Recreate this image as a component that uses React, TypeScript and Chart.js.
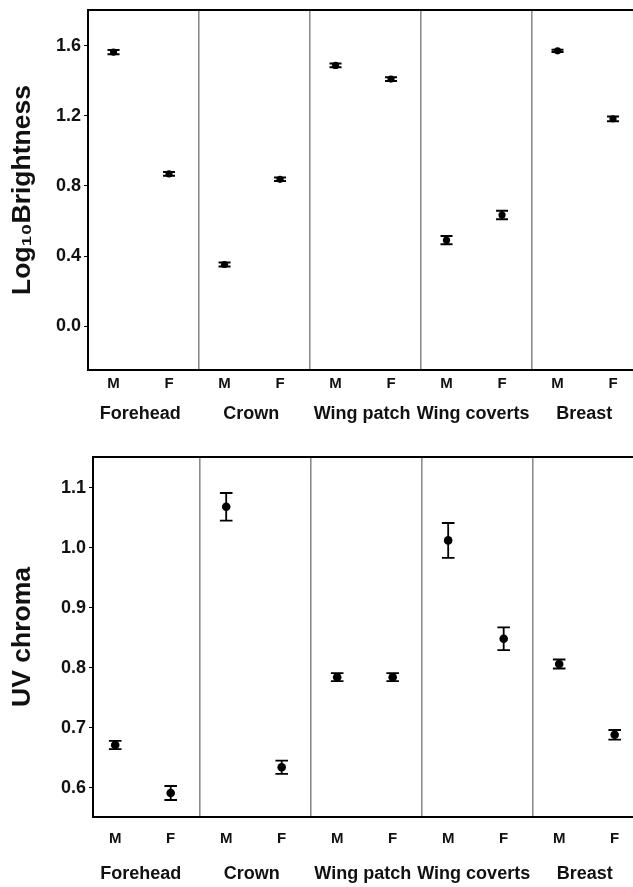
import React, { useEffect, useRef } from 'react';
import { Chart, registerables } from 'chart.js';

Chart.register(...registerables);

// ---------- data ----------
const regions = ['Forehead', 'Crown', 'Wing patch', 'Wing coverts', 'Breast'];
const sexLabels = ['M', 'F'];

const brightnessTicks = [0, 0.4, 0.8, 1.2, 1.6];
const brightnessMale = [1.564, 0.352, 1.488, 0.491, 1.571];
const brightnessFemale = [0.869, 0.838, 1.41, 0.634, 1.183];
const brightnessMaleErr = [0.012, 0.012, 0.011, 0.024, 0.006];
const brightnessFemaleErr = [0.011, 0.01, 0.011, 0.024, 0.014];

const uvTicks = [0.6, 0.7, 0.8, 0.9, 1.0, 1.1];
const uvMale = [0.671, 1.068, 0.784, 1.012, 0.806];
const uvFemale = [0.591, 0.634, 0.784, 0.848, 0.688];
const uvMaleErr = [0.007, 0.023, 0.0067, 0.029, 0.0075];
const uvFemaleErr = [0.0117, 0.011, 0.0067, 0.019, 0.008];

// ---------- styling ----------
const FONT = '"Liberation Sans", Arial, Helvetica, sans-serif';
const TEXT = '#111';

type TickDef = { value: number; kind: 'div' | 'sex' | 'grp'; label: string | string[] };

function buildXTicks(offM: number, offF: number, offG: number): TickDef[] {
  const list: TickDef[] = [];
  regions.forEach((name, i) => {
    if (i > 0) list.push({ value: i, kind: 'div', label: '' });
    list.push({ value: i + offM, kind: 'sex', label: sexLabels[0] });
    list.push({ value: i + offG, kind: 'grp', label: ['', name] });
    list.push({ value: i + offF, kind: 'sex', label: sexLabels[1] });
  });
  return list;
}

function errorBarPlugin(errs: number[][], cap: number, lw: number) {
  return {
    id: 'errorBars',
    afterDatasetsDraw(chart: any) {
      const ctx = chart.ctx;
      const yScale = chart.scales.y;
      ctx.save();
      ctx.strokeStyle = '#000';
      ctx.lineWidth = lw;
      chart.data.datasets.forEach((ds: any, di: number) => {
        const meta = chart.getDatasetMeta(di);
        meta.data.forEach((pt: any, i: number) => {
          const v = ds.data[i].y;
          const e = errs[di][i];
          const yT = yScale.getPixelForValue(v + e);
          const yB = yScale.getPixelForValue(v - e);
          const x = pt.x;
          ctx.beginPath();
          ctx.moveTo(x, yT);
          ctx.lineTo(x, yB);
          ctx.moveTo(x - cap, yT);
          ctx.lineTo(x + cap, yT);
          ctx.moveTo(x - cap, yB);
          ctx.lineTo(x + cap, yB);
          ctx.stroke();
        });
      });
      ctx.restore();
    },
  };
}

type Params = {
  male: number[];
  female: number[];
  maleErr: number[];
  femaleErr: number[];
  yTicks: number[];
  yMin: number;
  yMax: number;
  yTitle: string;
  xMin: number;
  xMax: number;
  offM: number;
  offF: number;
  offG: number;
  yAxisWidth: number;
  xAxisHeight: number;
  padTop: number;
  labelPad: number;
  grpLineHeight: number;
  radius: number;
  cap: number;
  barWidth: number;
};

function makeConfig(p: Params): any {
  const xTicks = buildXTicks(p.offM, p.offF, p.offG);
  const maleData = regions.map((_, i) => ({ x: i + p.offM, y: p.male[i] }));
  const femaleData = regions.map((_, i) => ({ x: i + p.offF, y: p.female[i] }));
  const zeroPad = (s: any) => {
    s.paddingLeft = 0;
    s.paddingRight = 0;
    s.paddingTop = 0;
    s.paddingBottom = 0;
  };
  return {
    type: 'scatter',
    data: {
      datasets: [
        {
          label: sexLabels[0],
          data: maleData,
          pointRadius: p.radius,
          pointBackgroundColor: '#000',
          pointBorderWidth: 0,
          showLine: false,
        },
        {
          label: sexLabels[1],
          data: femaleData,
          pointRadius: p.radius,
          pointBackgroundColor: '#000',
          pointBorderWidth: 0,
          showLine: false,
        },
      ],
    },
    options: {
      responsive: false,
      animation: false,
      devicePixelRatio: 1,
      layout: { autoPadding: false, padding: { top: p.padTop, left: 0, right: 0, bottom: 0 } },
      plugins: { legend: { display: false }, tooltip: { enabled: false } },
      scales: {
        x: {
          type: 'linear',
          position: 'bottom',
          min: p.xMin,
          max: p.xMax,
          afterBuildTicks: (s: any) => {
            s.ticks = xTicks.map((t) => ({ value: t.value }));
          },
          afterFit: (s: any) => {
            s.height = p.xAxisHeight;
            zeroPad(s);
          },
          ticks: {
            autoSkip: false,
            maxRotation: 0,
            minRotation: 0,
            padding: p.labelPad,
            color: TEXT,
            callback: (_v: any, i: number) => xTicks[i]?.label ?? '',
            font: (ctx: any) => {
              const t = xTicks[ctx.index];
              if (t && t.kind === 'grp') {
                return { family: FONT, size: 18, weight: 'bold', lineHeight: p.grpLineHeight };
              }
              return { family: FONT, size: 15, weight: 'bold', lineHeight: 1 };
            },
          },
          grid: {
            display: true,
            drawOnChartArea: true,
            drawTicks: false,
            lineWidth: 1.6,
            color: (ctx: any) => {
              const t = xTicks[ctx.index];
              return t && t.kind === 'div' ? '#8c8c8c' : 'rgba(0,0,0,0)';
            },
          },
          border: { display: true, color: '#000', width: 2 },
        },
        xTop: {
          type: 'linear',
          position: 'top',
          min: p.xMin,
          max: p.xMax,
          afterFit: (s: any) => {
            s.height = 0;
            zeroPad(s);
          },
          ticks: { display: false },
          grid: { display: false, drawTicks: false },
          border: { display: true, color: '#000', width: 2 },
        },
        y: {
          type: 'linear',
          position: 'left',
          min: p.yMin,
          max: p.yMax,
          afterBuildTicks: (s: any) => {
            s.ticks = p.yTicks.map((v) => ({ value: v }));
          },
          afterFit: (s: any) => {
            s.width = p.yAxisWidth;
            zeroPad(s);
          },
          ticks: {
            padding: 3,
            color: TEXT,
            font: { family: FONT, size: 18, weight: 'bold' },
            callback: (v: any) => Number(v).toFixed(1),
          },
          grid: {
            display: true,
            drawOnChartArea: false,
            drawTicks: true,
            tickLength: 4,
            color: '#000',
            lineWidth: 1,
          },
          border: { display: true, color: '#000', width: 2 },
          title: {
            display: true,
            text: p.yTitle,
            color: TEXT,
            font: { family: FONT, size: 26.5, weight: 'bold', lineHeight: 1.2 },
            padding: { top: 7, bottom: 0 },
          },
        },
      },
    },
    plugins: [errorBarPlugin([p.maleErr, p.femaleErr], p.cap, p.barWidth)],
  };
}

function ChartCanvas({ width, height, params }: { width: number; height: number; params: Params }) {
  const ref = useRef<HTMLCanvasElement | null>(null);
  useEffect(() => {
    if (!ref.current) return;
    const chart = new Chart(ref.current, makeConfig(params));
    return () => chart.destroy();
  }, []);
  return <canvas ref={ref} width={width} height={height} style={{ display: 'block', width, height }} />;
}

const topParams: Params = {
  male: brightnessMale,
  female: brightnessFemale,
  maleErr: brightnessMaleErr,
  femaleErr: brightnessFemaleErr,
  yTicks: brightnessTicks,
  yMin: -0.25,
  yMax: 1.804,
  yTitle: 'Log₁₀Brightness',
  xMin: 0,
  xMax: 4.91,
  offM: 0.23,
  offF: 0.73,
  offG: 0.47,
  yAxisWidth: 88,
  xAxisHeight: 60,
  padTop: 10,
  labelPad: 6,
  grpLineHeight: 1.407,
  radius: 3.6,
  cap: 6,
  barWidth: 2,
};

const bottomParams: Params = {
  male: uvMale,
  female: uvFemale,
  maleErr: uvMaleErr,
  femaleErr: uvFemaleErr,
  yTicks: uvTicks,
  yMin: 0.551,
  yMax: 1.151,
  yTitle: 'UV chroma',
  xMin: 0.04,
  xMax: 4.905,
  offM: 0.24,
  offF: 0.74,
  offG: 0.47,
  yAxisWidth: 93,
  xAxisHeight: 70,
  padTop: 27,
  labelPad: 14,
  grpLineHeight: 1.593,
  radius: 4.3,
  cap: 6.3,
  barWidth: 1.8,
};

export default function App() {
  return (
    <div style={{ position: 'absolute', left: 0, top: 0, width: 633, height: 887, background: '#fff', overflow: 'hidden' }}>
      <ChartCanvas width={633} height={430} params={topParams} />
      <ChartCanvas width={633} height={457} params={bottomParams} />
    </div>
  );
}
